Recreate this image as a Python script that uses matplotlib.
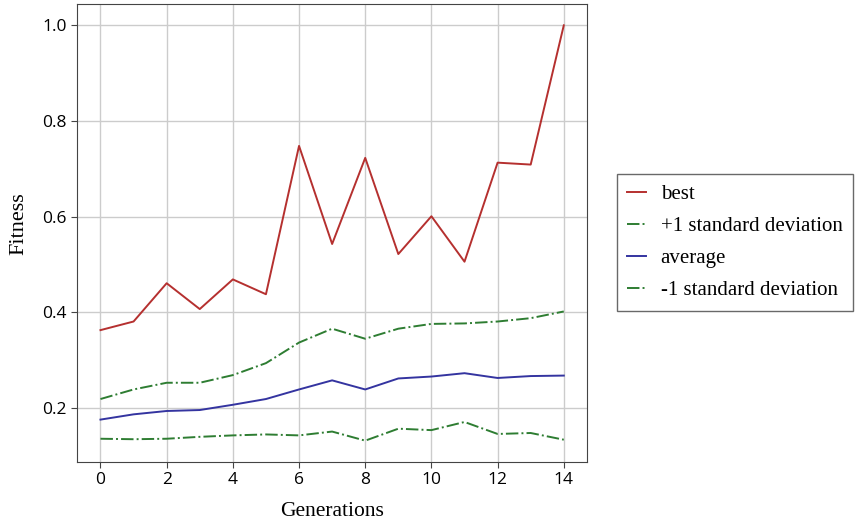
import matplotlib.pyplot as plt

generations = list(range(15))
best = [0.363, 0.381, 0.461, 0.407, 0.469, 0.438, 0.748, 0.543, 0.723, 0.522,
        0.601, 0.506, 0.713, 0.709, 1.0]
plus_std = [0.219, 0.239, 0.253, 0.253, 0.269, 0.294, 0.337, 0.366, 0.345, 0.366,
            0.376, 0.377, 0.381, 0.388, 0.402]
average = [0.176, 0.187, 0.194, 0.196, 0.207, 0.219, 0.239, 0.258, 0.239, 0.262,
           0.266, 0.273, 0.263, 0.267, 0.268]
minus_std = [0.136, 0.135, 0.136, 0.140, 0.143, 0.145, 0.143, 0.151, 0.132, 0.157,
             0.154, 0.171, 0.146, 0.148, 0.134]

serif = 'Liberation Serif'

fig = plt.figure(figsize=(8.58, 5.21), dpi=100)
ax = fig.add_axes([0.0901, 0.1138, 0.594, 0.878])

ax.plot(generations, best, color='#b5302f', lw=1.4, label='best')
ax.plot(generations, plus_std, color='#2e7d32', lw=1.4, ls='-.', label='+1 standard deviation')
ax.plot(generations, average, color='#3434a0', lw=1.4, label='average')
ax.plot(generations, minus_std, color='#2e7d32', lw=1.4, ls='-.', label='-1 standard deviation')

ax.set_xlim(-0.7, 14.7)
ax.set_ylim(0.088, 1.044)
ax.set_xticks(range(0, 15, 2))
ax.set_yticks([0.2, 0.4, 0.6, 0.8, 1.0])
ax.grid(True, color='#cccccc', lw=1)
ax.set_axisbelow(True)
for s in ax.spines.values():
    s.set_color('#444444')
ax.tick_params(labelsize=12.5, color='#444444', length=4)
for t in ax.get_xticklabels() + ax.get_yticklabels():
    t.set_family('Open Sans')

ax.set_xlabel('Generations', family=serif, fontsize=15.5, labelpad=10)
ax.set_ylabel('Fitness', family=serif, fontsize=16)
ax.yaxis.set_label_coords(-0.096, 0.52)

leg = fig.legend(loc='upper left', bbox_to_anchor=(0.719, 0.666), borderaxespad=0,
                 prop={'family': serif, 'size': 15}, fancybox=False,
                 edgecolor='#444444', handlelength=0.9, handletextpad=0.7,
                 labelspacing=0.6, borderpad=0.5)
leg.get_frame().set_linewidth(1)

fig.savefig('out.png', dpi=100)
